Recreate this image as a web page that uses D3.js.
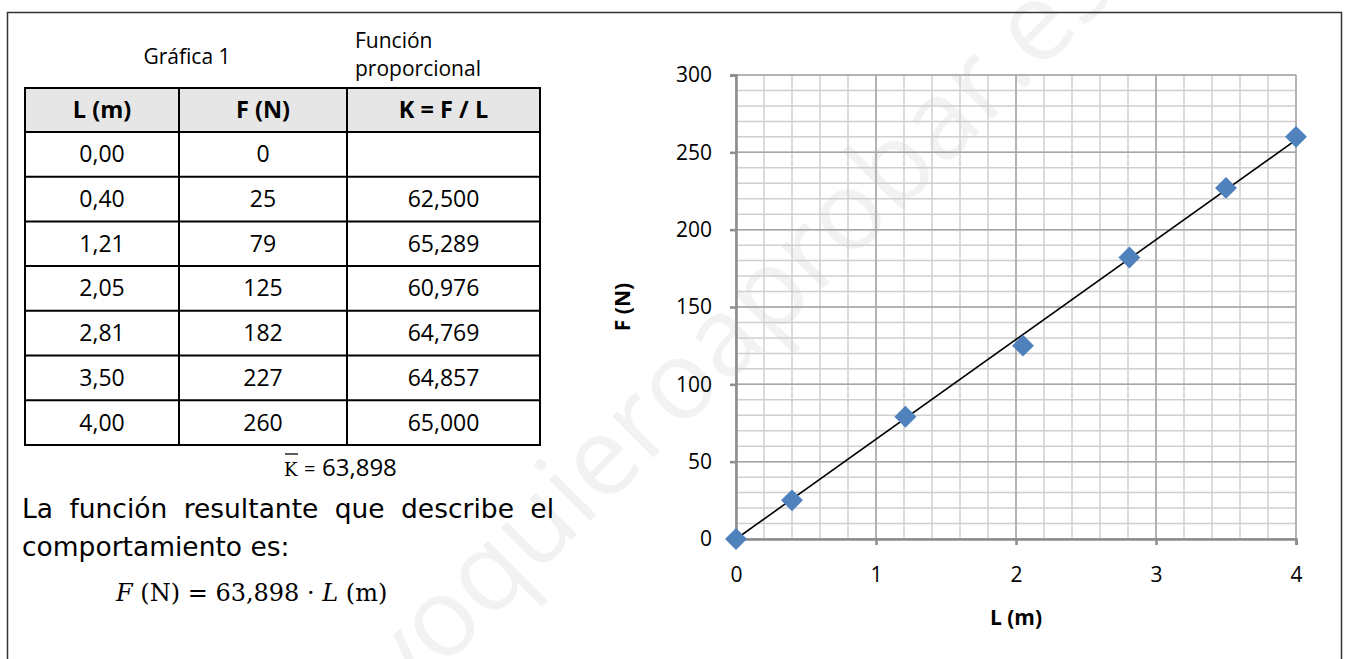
<!DOCTYPE html>
<html><head><meta charset="utf-8">
<script src="https://cdn.jsdelivr.net/npm/d3@7"></script>
<style>
html,body{margin:0;padding:0;background:#fff;}
svg{display:block;}
</style></head>
<body>
<svg id="c" width="1352" height="659"></svg>
<script>
// ---- data ----
const lengths = [0.00, 0.40, 1.21, 2.05, 2.81, 3.50, 4.00];
const forces = [0, 25, 79, 125, 182, 227, 260];
const kValues = [null, 62.500, 65.289, 60.976, 64.769, 64.857, 65.000];
const kMean = 63.898;
const trendLine = [[0, 0], [4, 258]];
const tableHeaders = ["L (m)", "F (N)", "K = F / L"];
const xTicks = [0, 1, 2, 3, 4];
const yTicks = [0, 50, 100, 150, 200, 250, 300];

const loc = d3.formatLocale({decimal: ",", thousands: ".", grouping: [3], currency: ["", ""]});
const f2 = loc.format(".2f"), f3 = loc.format(".3f"), f0 = loc.format("d");

const svg = d3.select("#c");

// watermark
svg.append("text")
  .attr("transform", "translate(740,330) rotate(-45)")
  .attr("text-anchor", "middle").attr("dominant-baseline", "middle")
  .attr("font-family", "Open Sans").attr("font-size", 110)
  .attr("fill", "#000").attr("fill-opacity", 0.05)
  .text("yoquieroaprobar.es");

// outer border
svg.append("rect").attr("x", 7.5).attr("y", 12.5).attr("width", 1334).attr("height", 700)
  .attr("fill", "none").attr("stroke", "#333").attr("stroke-width", 1.5);

// ---- table ----
const colX = [25, 179, 347, 540];
const rowY0 = 88, headH = 44, rowH = 44.7;
const tf = "Open Sans";
const T = svg.append("g");
T.append("text").attr("x", 187).attr("y", 64).attr("text-anchor", "middle")
  .attr("font-family", tf).attr("font-size", 21).text("Gráfica 1");
T.append("text").attr("x", 355).attr("y", 48)
  .attr("font-family", tf).attr("font-size", 21).text("Función");
T.append("text").attr("x", 355).attr("y", 76)
  .attr("font-family", tf).attr("font-size", 21).text("proporcional");

T.append("rect").attr("x", colX[0]).attr("y", rowY0).attr("width", colX[3] - colX[0]).attr("height", headH)
  .attr("fill", "#e6e6e6");
tableHeaders.forEach((h, i) => {
  T.append("text").attr("x", (colX[i] + colX[i + 1]) / 2).attr("y", rowY0 + headH / 2 + 8)
    .attr("text-anchor", "middle").attr("font-family", tf).attr("font-weight", "bold")
    .attr("font-size", 23.5).text(h);
});
const rows = lengths.map((l, i) => [f2(l), f0(forces[i]), kValues[i] == null ? "" : f3(kValues[i])]);
rows.forEach((r, ri) => {
  const yc = rowY0 + headH + rowH * ri + rowH / 2 + 8;
  r.forEach((s, ci) => {
    T.append("text").attr("x", (colX[ci] + colX[ci + 1]) / 2).attr("y", yc)
      .attr("text-anchor", "middle").attr("font-family", tf).attr("font-size", 23).text(s);
  });
});
const tableBottom = rowY0 + headH + rowH * rows.length;
const hl = [rowY0, rowY0 + headH].concat(rows.map((_, i) => rowY0 + headH + rowH * (i + 1)));
hl.forEach(y => T.append("line").attr("x1", colX[0] - 1).attr("x2", colX[3] + 1).attr("y1", y).attr("y2", y)
  .attr("stroke", "#000").attr("stroke-width", 2));
colX.forEach(x => T.append("line").attr("x1", x).attr("x2", x).attr("y1", rowY0).attr("y2", tableBottom)
  .attr("stroke", "#000").attr("stroke-width", 2));

// K mean
const km = svg.append("text").attr("y", 476);
km.append("tspan").attr("x", 284).attr("font-family", "DejaVu Serif").attr("font-size", 18).text("K");
km.append("tspan").attr("x", 304).attr("font-family", tf).attr("font-size", 20).text("=");
km.append("tspan").attr("x", 322).attr("font-family", tf).attr("font-size", 24).text(f3(kMean));
svg.append("line").attr("x1", 285).attr("x2", 298).attr("y1", 454).attr("y2", 454)
  .attr("stroke", "#000").attr("stroke-width", 1.3);

// paragraph (justified first line)
const words = "La función resultante que describe el".split(" ");
const pg = svg.append("g").attr("font-family", "DejaVu Sans").attr("font-size", 26.5);
const wn = words.map(w => pg.append("text").attr("y", 518).text(w));
const widths = wn.map(n => n.node().getComputedTextLength());
const lx0 = 22, lx1 = 554;
const gap = (lx1 - lx0 - d3.sum(widths)) / (words.length - 1);
let cx = lx0;
wn.forEach((n, i) => { n.attr("x", cx); cx += widths[i] + gap; });
pg.append("text").attr("x", lx0).attr("y", 556).text("comportamiento es:");

// formula
const fm = svg.append("text").attr("x", 116).attr("y", 601)
  .attr("font-family", "DejaVu Serif").attr("font-size", 24);
fm.append("tspan").attr("font-style", "italic").text("F");
fm.append("tspan").text(" (N) = " + f3(kMean) + " · ");
fm.append("tspan").attr("font-style", "italic").text("L");
fm.append("tspan").text(" (m)");

// ---- chart ----
const x = d3.scaleLinear().domain([0, 4]).range([736, 1296]);
const y = d3.scaleLinear().domain([0, 300]).range([539, 75]);
const G = svg.append("g");
const minorX = d3.range(0, 4.0001, 0.2), minorY = d3.range(0, 300.001, 10);
G.append("g").selectAll("line").data(minorX).join("line")
  .attr("x1", d => x(d)).attr("x2", d => x(d)).attr("y1", y(0)).attr("y2", y(300))
  .attr("stroke", "#cfcfcf").attr("stroke-width", 1.5);
G.append("g").selectAll("line").data(minorY).join("line")
  .attr("y1", d => y(d)).attr("y2", d => y(d)).attr("x1", x(0)).attr("x2", x(4))
  .attr("stroke", "#cfcfcf").attr("stroke-width", 1.5);
G.append("g").selectAll("line").data(xTicks).join("line")
  .attr("x1", d => x(d)).attr("x2", d => x(d)).attr("y1", y(0)).attr("y2", y(300))
  .attr("stroke", "#a6a6a6").attr("stroke-width", 1.5);
G.append("g").selectAll("line").data(yTicks).join("line")
  .attr("y1", d => y(d)).attr("y2", d => y(d)).attr("x1", x(0)).attr("x2", x(4))
  .attr("stroke", "#a6a6a6").attr("stroke-width", 1.5);

const axStyle = g => {
  g.select(".domain").attr("stroke", "#8c8c8c").attr("stroke-width", 2.5);
  g.selectAll(".tick line").attr("stroke", "#8c8c8c").attr("stroke-width", 2.5);
  g.selectAll(".tick text").attr("font-family", tf).attr("font-size", 21).attr("fill", "#000");
};
G.append("g").attr("transform", `translate(0,${y(0)})`)
  .call(d3.axisBottom(x).tickValues(xTicks).tickSize(6).tickSizeOuter(6).tickPadding(22).tickFormat(d3.format("d")))
  .call(axStyle);
G.append("g").attr("transform", `translate(${x(0)},0)`)
  .call(d3.axisLeft(y).tickValues(yTicks).tickSize(6).tickSizeOuter(6).tickPadding(18).tickFormat(d3.format("d")))
  .call(axStyle);

// trendline
G.append("path").datum(trendLine)
  .attr("d", d3.line().x(d => x(d[0])).y(d => y(d[1])))
  .attr("stroke", "#000").attr("stroke-width", 1.6).attr("fill", "none");

// markers
G.append("g").selectAll("path").data(lengths.map((l, i) => [l, forces[i]])).join("path")
  .attr("d", d3.symbol(d3.symbolSquare, 240))
  .attr("transform", d => `translate(${x(d[0])},${y(d[1])}) rotate(45)`)
  .attr("fill", "#4f81bd");

// axis titles
G.append("text").attr("x", 1016).attr("y", 625).attr("text-anchor", "middle")
  .attr("font-family", tf).attr("font-weight", "bold").attr("font-size", 21).text("L (m)");
G.append("text").attr("transform", "translate(630,307) rotate(-90)").attr("text-anchor", "middle")
  .attr("font-family", tf).attr("font-weight", "bold").attr("font-size", 21).text("F (N)");
</script>
</body></html>
